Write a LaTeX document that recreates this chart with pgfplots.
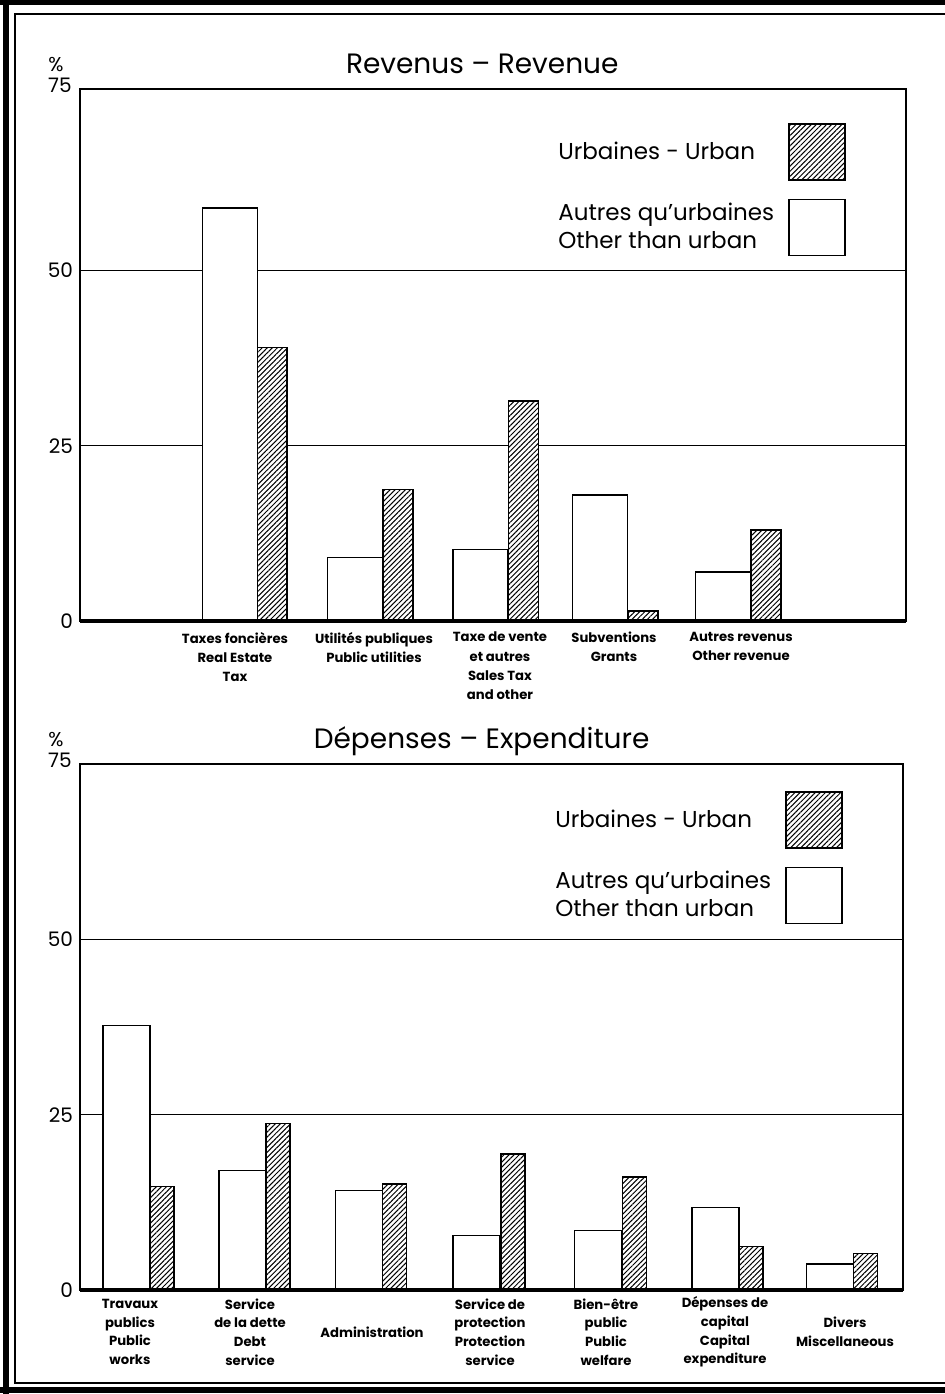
\documentclass[border=0pt]{standalone}
\usepackage{fontspec}
\setmainfont{Poppins}
\usepackage{pgfplots}
\pgfplotsset{compat=1.18}
\usetikzlibrary{patterns.meta}

\pgfplotsset{
  otherbar/.style={ybar, bar shift=0pt, fill=white, draw=black, line width=0.7pt,
    legend image code/.code={\draw[##1] (0pt,-14pt) rectangle (28pt,14pt);}},
  urbanbar/.style={ybar, bar shift=0pt, fill=white, draw=black, line width=0.7pt,
    postaction={pattern={Lines[angle=45,distance=1.8pt,line width=0.5pt]}},
    legend image code/.code={\draw[##1] (0pt,-14pt) rectangle (28pt,14pt);}},
  panel/.style={
    scale only axis,
    clip=false,
    ymin=0,
    ytick={0,25,50},
    ymajorgrids,
    grid style={black, line width=0.7pt},
    major tick length=0pt,
    axis line style={line width=0.8pt},
    /pgf/number format/assume math mode=true,
    yticklabel style={font=\fontsize{10}{12}\selectfont},
    title style={font=\fontsize{14}{16}\selectfont, anchor=center},
    legend plot pos=right,
    legend style={draw=none, fill=none, inner sep=0pt, row sep=9pt, column sep=5pt,
      font=\fontsize{11.5}{14}\selectfont, cells={anchor=west, align=left}},
  },
}

\begin{document}
\begin{tikzpicture}
\useasboundingbox (0,0) rectangle (472.5pt,697pt);

% ---------------- Revenue ----------------
\begin{axis}[panel,
  at={(40pt,386.5pt)}, anchor=south west,
  width=413pt, height=266pt,
  xmin=80, xmax=906, ymax=75.9,
  title={Revenus – Revenue},
  title style={at={(0.487,1)}, yshift=6.5pt},
  xtick={235,374,500,614,741},
  xticklabels={{Taxes foncières\\Real Estate\\Tax},{Utilités publiques\\Public utilities},{Taxe de vente\\et autres\\Sales Tax\\and other},{Subventions\\Grants},{Autres revenus\\Other revenue}},
  xticklabel style={align=center, anchor=north, yshift=-2pt, font=\fontsize{6.6}{9.6}\selectfont\bfseries},
  legend style={at={(1,1)}, anchor=north east, xshift=-30pt, yshift=-17pt},
]
\addplot[urbanbar, bar width=30] coordinates {(272,39.0) (398,18.8) (523.5,31.4) (643,1.4) (766,13.0)};
\addlegendentry{Urbaines - Urban}
\addplot[otherbar, bar width=55] coordinates {(230,58.9) (355,9.05) (480.5,10.2) (600,18.0) (723,7.0)};
\addlegendentry{Autres qu’urbaines\\Other than urban}
\draw[line width=2pt] (rel axis cs:0,0) -- (rel axis cs:1,0);
\node[anchor=east, font=\fontsize{10}{12}\selectfont, inner sep=0pt] at (rel axis cs:0,1) [xshift=-4pt, yshift=2pt] {75};
\node[font=\fontsize{10}{12}\selectfont, inner sep=0pt] at (rel axis cs:0,1) [xshift=-12pt, yshift=12pt] {\%};
\end{axis}

% ---------------- Expenditure ----------------
\begin{axis}[panel,
  at={(40pt,52pt)}, anchor=south west,
  width=411.5pt, height=263pt,
  xmin=80, xmax=903, ymax=75,
  title={Dépenses – Expenditure},
  title style={at={(0.488,1)}, yshift=5.5pt},
  xtick={130,250,372,490,606,725,845},
  xticklabels={{Travaux\\publics\\Public\\works},{Service\\de la dette\\Debt\\service},{Administration},{Service de\\protection\\Protection\\service},{Bien-être\\public\\Public\\welfare},{Dépenses de\\capital\\Capital\\expenditure},{Divers\\Miscellaneous}},
  xticklabel style={align=center, anchor=center, yshift=-21pt, font=\fontsize{6.6}{9.3}\selectfont\bfseries},
  legend style={at={(1,1)}, anchor=north east, xshift=-30pt, yshift=-13.5pt},
]
\addplot[urbanbar, bar width=24] coordinates {(162,14.8) (278,23.7) (394.5,15.1) (513,19.4) (634.5,16.1) (751,6.2) (865.5,5.2)};
\addlegendentry{Urbaines - Urban}
\addplot[otherbar, bar width=47] coordinates {(126.5,37.7) (242.5,17.0) (359,14.2) (476.5,7.8) (598,8.5) (715.5,11.8) (830,3.7)};
\addlegendentry{Autres qu’urbaines\\Other than urban}
\draw[line width=2pt] (rel axis cs:0,0) -- (rel axis cs:1,0);
\node[anchor=east, font=\fontsize{10}{12}\selectfont, inner sep=0pt] at (rel axis cs:0,1) [xshift=-4pt, yshift=2pt] {75};
\node[font=\fontsize{10}{12}\selectfont, inner sep=0pt] at (rel axis cs:0,1) [xshift=-12pt, yshift=12pt] {\%};
\end{axis}

% ---------------- frame ----------------
\draw[line width=3pt] (3pt,0) -- (3pt,697pt);
\draw[line width=2.5pt] (0,695.75pt) -- (472.5pt,695.75pt);
\draw[line width=3pt] (0,2pt) -- (472.5pt,2pt);
\draw[line width=0.8pt] (472.5pt,690pt) -- (7.5pt,690pt) -- (7.5pt,5.5pt) -- (472.5pt,5.5pt);
\end{tikzpicture}
\end{document}
